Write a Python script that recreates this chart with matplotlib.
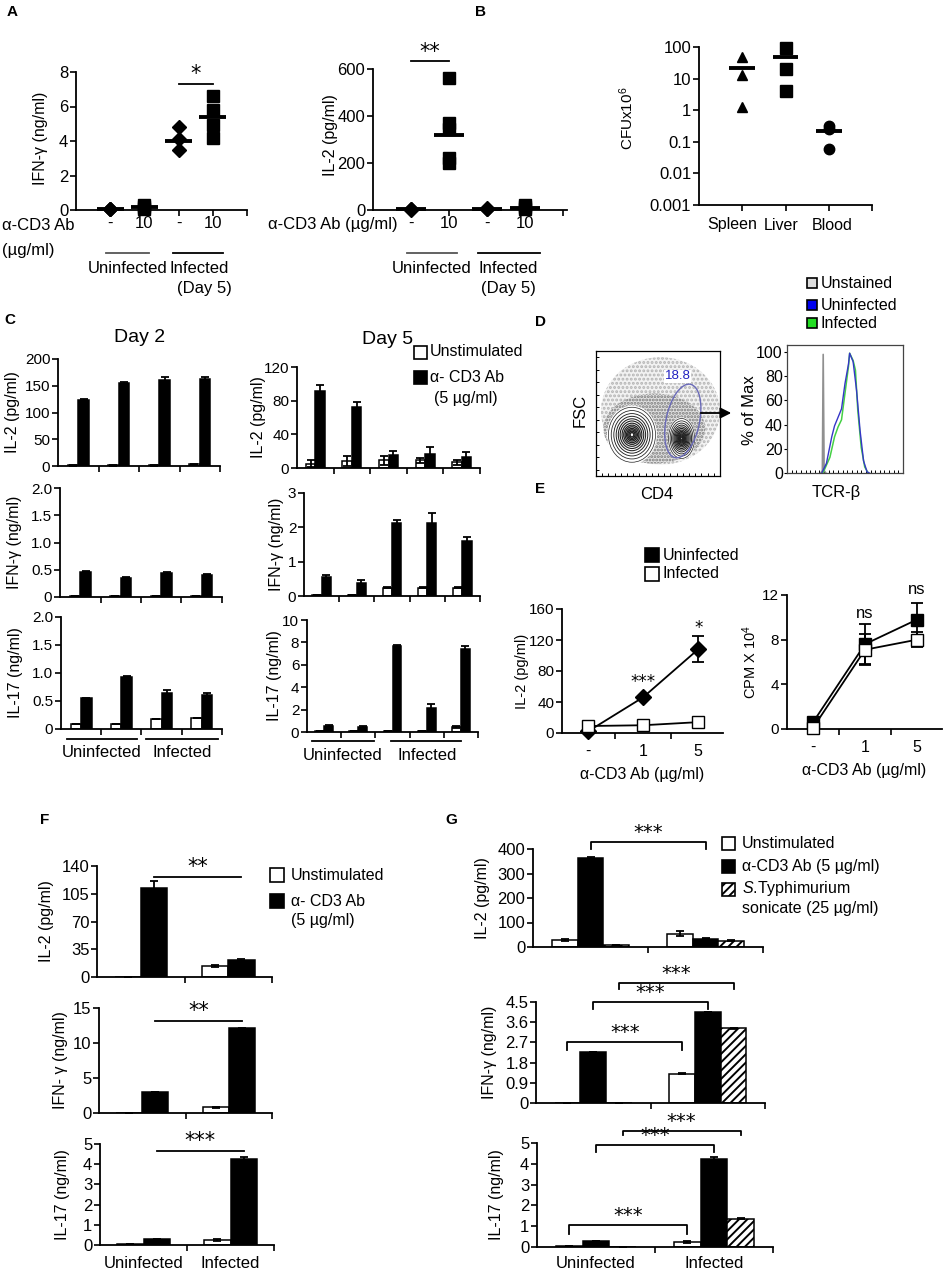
import numpy as np
import matplotlib
matplotlib.use("Agg")
import matplotlib.pyplot as plt
from matplotlib import transforms
from matplotlib.patches import Ellipse, Rectangle, FancyArrowPatch

plt.rcParams['font.family'] = ['Liberation Sans', 'DejaVu Sans']
plt.rcParams['mathtext.fontset'] = 'custom'
plt.rcParams['mathtext.rm'] = 'Liberation Sans'
plt.rcParams['mathtext.it'] = 'Liberation Sans:italic'
plt.rcParams['hatch.linewidth'] = 1.4

W, H = 944, 1272
STAR_FONT = ['DejaVu Sans']

# ---------------- data ----------------
# A: single mice + group means
a_tick_labels = ["-", "10", "-", "10"]
a_markers = ["D", "s", "D", "s"]
a_ifng_points = [[0.03, 0.05, 0.08], [0.05, 0.15, 0.3], [4.8, 4.1, 3.5], [6.6, 5.8, 4.9, 4.2]]
a_ifng_means = [0.05, 0.15, 4.0, 5.4]
a_il2_points = [[2, 4, 6], [560, 370, 345, 220, 200], [3, 5, 7], [5, 12, 20]]
a_il2_means = [4, 320, 5, 10]

# B: bacterial load
b_sites = ["Spleen", "Liver", "Blood"]
b_site_label_x = [0.76, 1.9, 3.08]
b_markers = ["^", "s", "o"]
b_cfu_points = [[48, 13, 1.3], [90, 20, 4], [0.32, 0.25, 0.06]]
b_cfu_means = [22, 47, 0.22]

# C: day 2 (4 cultures) and day 5 (5 cultures)
c2_il2_unstim, c2_il2_unstim_err = [1, 1, 1, 3], [0.5, 0.5, 0.5, 1]
c2_il2_cd3, c2_il2_cd3_err = [123, 155, 161, 163], [3, 2, 5, 4]
c2_ifng_unstim, c2_ifng_unstim_err = [0.02, 0.02, 0.02, 0.01], [0, 0, 0, 0]
c2_ifng_cd3, c2_ifng_cd3_err = [0.46, 0.35, 0.44, 0.41], [0.01, 0.01, 0.01, 0.01]
c2_il17_unstim, c2_il17_unstim_err = [0.09, 0.09, 0.18, 0.2], [0, 0, 0, 0]
c2_il17_cd3, c2_il17_cd3_err = [0.55, 0.93, 0.64, 0.61], [0.01, 0.01, 0.05, 0.04]

c5_il2_unstim, c5_il2_unstim_err = [5, 8, 9, 9, 7], [4, 6, 5, 3, 3]
c5_il2_cd3, c5_il2_cd3_err = [92, 72, 15, 17, 13], [7, 6, 5, 8, 6]
c5_ifng_unstim, c5_ifng_unstim_err = [0.02, 0.03, 0.24, 0.24, 0.24], [0, 0, 0.02, 0.02, 0.02]
c5_ifng_cd3, c5_ifng_cd3_err = [0.54, 0.38, 2.12, 2.14, 1.59], [0.08, 0.08, 0.09, 0.27, 0.14]
c5_il17_unstim, c5_il17_unstim_err = [0.05, 0.05, 0.1, 0.05, 0.45], [0, 0, 0, 0, 0.05]
c5_il17_cd3, c5_il17_cd3_err = [0.54, 0.45, 7.7, 2.1, 7.4], [0.05, 0.05, 0.1, 0.4, 0.25]

# D: flow cytometry (axes-fraction shapes, histogram points)
d_cloud_outer = (0.52, 0.52, 0.96, 0.86)
d_cloud_inner = (0.47, 0.38, 0.82, 0.56)
d_clusters = [(0.29, 0.33, 0.38, 0.44), (0.69, 0.30, 0.21, 0.32)]
d_contour_scales = [1.0, 0.88, 0.77, 0.67, 0.58, 0.5, 0.42, 0.35, 0.29, 0.23, 0.18, 0.13, 0.08]
d_gate = (0.70, 0.44, 0.27, 0.60, -12)
d_gate_pct = "18.8"
d_unstained_x = [29, 30.5, 31.2, 32, 33.5]
d_unstained_y = [0, 2, 98, 2, 0]
d_uninf_x = [30, 34, 38.6, 41, 44, 47, 50, 53, 54, 57, 60, 63, 66, 69, 71]
d_uninf_y = [0, 8, 30, 39, 46, 53, 74, 90, 99, 92, 68, 35, 10, 1, 0]
d_inf_x = [31, 37, 41, 44, 47, 50, 53, 54, 57, 59, 61, 64, 67, 70]
d_inf_y = [0, 13, 30, 38, 44, 66, 88, 99, 93, 85, 52, 21, 5, 0]

# E: dose response
e_doses = ["-", "1", "5"]
e_il2_uninf, e_il2_uninf_err = [2, 46, 108], [1, 2, 17]
e_il2_inf, e_il2_inf_err = [9, 10, 14], [1, 1, 1]
e_il2_stars, e_il2_star_y = ["", "***", "*"], [0, 66, 136]
e_cpm_uninf, e_cpm_uninf_err = [0.6, 7.6, 9.8], [0.2, 1.8, 1.5]
e_cpm_inf, e_cpm_inf_err = [0.1, 7.1, 8.0], [0.1, 1.4, 0.7]
e_cpm_stars, e_cpm_star_y = ["", "ns", "ns"], [0, 10.3, 12.5]

# F
f_groups = ["Uninfected", "Infected"]
f_il2_unstim, f_il2_unstim_err = [0.5, 14], [0, 1]
f_il2_cd3, f_il2_cd3_err = [112, 21], [9, 1.5]
f_ifng_unstim, f_ifng_unstim_err = [0.02, 0.8], [0, 0.1]
f_ifng_cd3, f_ifng_cd3_err = [3.0, 12.1], [0.05, 0.08]
f_il17_unstim, f_il17_unstim_err = [0.05, 0.25], [0, 0.03]
f_il17_cd3, f_il17_cd3_err = [0.28, 4.28], [0.02, 0.1]
f_sig_y = [126, 13.2, 4.65]
f_sig_txt = ["**", "**", "***"]

# G
g_il2 = [[30, 55], [362, 33], [8, 26]]
g_il2_err = [[4, 12], [4, 2], [1, 3]]
g_ifng = [[0.02, 1.3], [2.26, 4.04], [0.02, 3.33]]
g_ifng_err = [[0, 0.03], [0, 0], [0, 0.03]]
g_il17 = [[0.03, 0.24], [0.29, 4.25], [0.02, 1.36]]
g_il17_err = [[0, 0.03], [0.02, 0.08], [0, 0.03]]
# brackets: (bar index, top y, leg end y)
g_il2_br = [(1, 427, 400)]
g_ifng_br = [(0, 2.73, 2.36), (1, 4.5, 4.2), (2, 5.34, 5.09)]
g_il17_br = [(0, 1.04, 0.64), (1, 4.89, 4.57), (2, 5.6, 5.37)]

# ---------------- helpers ----------------
fig = plt.figure(figsize=(W / 100, H / 100), dpi=100)


def px_axes(l, t, r, b):
    return fig.add_axes([l / W, 1 - b / H, (r - l) / W, (b - t) / H])


def ftext(x, y, s, size=11, ha="center", va="center", **kw):
    return fig.text(x / W, 1 - y / H, s, size=size, ha=ha, va=va, **kw)


def fy(y):
    return 1 - y / H


def xfig(ax):
    return transforms.blended_transform_factory(ax.transData, fig.transFigure)


def open_axes(ax, fs=11):
    for side in ("top", "right"):
        ax.spines[side].set_visible(False)
    for side in ("left", "bottom"):
        ax.spines[side].set_linewidth(1.3)
    ax.tick_params(direction="out", length=4, width=1.2, labelsize=fs, pad=1.5)


def dot_panel(ax, points, means, markers, half):
    for i, (pts, m, mk) in enumerate(zip(points, means, markers)):
        x = i + 1
        ax.plot([x] * len(pts), pts, mk, color="black", ms=8 if mk == "s" else 7.5,
                clip_on=False, zorder=3)
        ax.hlines(m, x - half, x + half, color="black", lw=2.8, zorder=4, clip_on=False)


def bars(ax, series, errs, offsets, width, faces, hatches=None):
    n = len(series[0])
    centers = np.arange(n) + 0.5
    hatches = hatches or [None] * len(series)
    for vals, err, off, fc, h in zip(series, errs, offsets, faces, hatches):
        ax.bar(centers + off, vals, width, color=fc, edgecolor="black", linewidth=1.1,
               hatch=h, zorder=2)
        ax.errorbar(centers + off, vals, yerr=err, fmt="none", ecolor="black",
                    elinewidth=1.3, capsize=3, capthick=1.3, zorder=3)
    ax.set_xlim(0, n)
    ax.set_xticks(np.arange(1, n + 1))
    ax.set_xticklabels([])


def underline(ax, x0, x1, ypx, color="black"):
    ax.plot([x0, x1], [fy(ypx)] * 2, color=color, lw=1.3, transform=xfig(ax), clip_on=False)


def legend_box(x, y, face, hatch=None, size=13):
    fig.add_artist(Rectangle(((x - size / 2) / W, fy(y + size / 2)), size / W, size / H,
                             facecolor=face, edgecolor="black", lw=1.2, hatch=hatch,
                             transform=fig.transFigure))


# panel letters
for letter, x, y in [("A", 12, 12), ("B", 481, 12), ("C", 10, 320), ("D", 540, 322),
                     ("E", 540, 489), ("F", 45, 820), ("G", 451, 820)]:
    ftext(x, y, letter, size=11, weight="bold")

# ---------------- A ----------------
ax = px_axes(76, 72, 247, 210)
open_axes(ax, 12)
dot_panel(ax, a_ifng_points, a_ifng_means, a_markers, 0.4)
ax.set_xlim(0, 5)
ax.set_ylim(0, 8)
ax.set_yticks([0, 2, 4, 6, 8])
ax.set_xticks([1, 2, 3, 4, 5])
ax.set_xticklabels([])
ax.plot([3, 4], [7.3, 7.3], color="black", lw=1.3, clip_on=False)
ax.text(3.5, 7.3, "*", ha="center", va="bottom", size=15, family=STAR_FONT)
for i, lab in enumerate(a_tick_labels):
    ax.text(i + 1, fy(223), lab, transform=xfig(ax), ha="center", va="center", size=12)
underline(ax, 0.88, 2.14, 253, color="#555555")
underline(ax, 2.84, 4.3, 253)
ax.text(1.5, fy(268), "Uninfected", transform=xfig(ax), ha="center", va="center", size=12)
ax.text(3.6, fy(268), "Infected", transform=xfig(ax), ha="center", va="center", size=12)
ax.text(3.75, fy(289), "(Day 5)", transform=xfig(ax), ha="center", va="center", size=12)
ftext(2, 225, "α-CD3 Ab", size=12, ha="left")
ftext(2, 250, "(µg/ml)", size=12, ha="left")
ftext(40, 138, "IFN-γ (ng/ml)", size=11.5, rotation=90)

ax = px_axes(373, 69, 567, 210)
open_axes(ax, 12)
dot_panel(ax, a_il2_points, a_il2_means, a_markers, 0.4)
ax.set_xlim(0, 5.1)
ax.set_ylim(0, 600)
ax.set_yticks([0, 200, 400, 600])
ax.set_xticks([1, 2, 3, 4, 5])
ax.set_xticklabels([])
ax.plot([1, 2], [632, 632], color="black", lw=1.3, clip_on=False)
ax.text(1.5, 630, "**", ha="center", va="bottom", size=15, family=STAR_FONT)
for i, lab in enumerate(a_tick_labels):
    ax.text(i + 1, fy(223), lab, transform=xfig(ax), ha="center", va="center", size=12)
underline(ax, 0.9, 2.2, 253, color="#555555")
underline(ax, 2.75, 4.4, 253)
ax.text(1.55, fy(268), "Uninfected", transform=xfig(ax), ha="center", va="center", size=12)
ax.text(3.55, fy(268), "Infected", transform=xfig(ax), ha="center", va="center", size=12)
ax.text(3.55, fy(289), "(Day 5)", transform=xfig(ax), ha="center", va="center", size=12)
ftext(398, 225, "α-CD3 Ab (µg/ml)", size=12, ha="right")
ftext(330, 135, "IL-2 (pg/ml)", size=11.5, rotation=90)

# ---------------- B ----------------
ax = px_axes(699, 47, 872, 205)
open_axes(ax, 12)
ax.set_yscale("log")
dot_panel(ax, b_cfu_points, b_cfu_means, b_markers, 0.3)
ax.set_xlim(0, 4)
ax.set_ylim(0.001, 100)
ax.set_yticks([0.001, 0.01, 0.1, 1, 10, 100])
ax.set_yticklabels(["0.001", "0.01", "0.1", "1", "10", "100"])
ax.minorticks_off()
ax.set_xticks([1, 2, 3, 4])
ax.set_xticklabels([])
for lx, site in zip(b_site_label_x, b_sites):
    ax.text(lx, fy(225), site, transform=xfig(ax), ha="center", va="center", size=11.5)
ftext(627, 118, "CFUx10$^6$", size=11, rotation=90)

# ---------------- C ----------------
ftext(140, 337, "Day 2", size=14)
ftext(388, 339, "Day 5", size=14)
c_off, c_w = [-0.13, 0.13], 0.26


def c_panel(box, unstim, unstim_err, cd3, cd3_err, ylim, yticks, ylabels, lab, lab_x):
    ax = px_axes(*box)
    open_axes(ax, 11)
    bars(ax, [unstim, cd3], [unstim_err, cd3_err], c_off, c_w, ["white", "black"])
    ax.set_ylim(*ylim)
    ax.set_yticks(yticks)
    ax.set_yticklabels(ylabels)
    ftext(lab_x, (box[1] + box[3]) / 2, lab, size=11.5, rotation=90)
    return ax


c_panel((58, 359, 220, 466), c2_il2_unstim, c2_il2_unstim_err, c2_il2_cd3, c2_il2_cd3_err,
        (0, 200), [0, 50, 100, 150, 200], ["0", "50", "100", "150", "200"], "IL-2 (pg/ml)", 13)
c_panel((60, 488, 222, 597), c2_ifng_unstim, c2_ifng_unstim_err, c2_ifng_cd3, c2_ifng_cd3_err,
        (0, 2), [0, 0.5, 1, 1.5, 2], ["0", "0.5", "1.0", "1.5", "2.0"], "IFN-γ (ng/ml)", 15)
ax = c_panel((61, 617, 222, 729), c2_il17_unstim, c2_il17_unstim_err, c2_il17_cd3, c2_il17_cd3_err,
             (0, 2), [0, 0.5, 1, 1.5, 2], ["0", "0.5", "1.0", "1.5", "2.0"], "IL-17 (ng/ml)", 16)
underline(ax, 0.15, 1.9, 739)
underline(ax, 2.1, 3.9, 739)
ax.text(1.0, fy(753), "Uninfected", transform=xfig(ax), ha="center", va="center", size=12)
ax.text(3.0, fy(753), "Infected", transform=xfig(ax), ha="center", va="center", size=12)

c_panel((297, 367, 480, 468), c5_il2_unstim, c5_il2_unstim_err, c5_il2_cd3, c5_il2_cd3_err,
        (0, 120), [0, 40, 80, 120], ["0", "40", "80", "120"], "IL-2 (pg/ml)", 258)
c_panel((304, 493, 480, 596), c5_ifng_unstim, c5_ifng_unstim_err, c5_ifng_cd3, c5_ifng_cd3_err,
        (0, 3), [0, 1, 2, 3], ["0", "1", "2", "3"], "IFN-γ (ng/ml)", 276)
ax = c_panel((307, 620, 478, 732), c5_il17_unstim, c5_il17_unstim_err, c5_il17_cd3, c5_il17_cd3_err,
             (0, 10), [0, 2, 4, 6, 8, 10], ["0", "2", "4", "6", "8", "10"], "IL-17 (ng/ml)", 274)
underline(ax, 0.15, 1.95, 741)
underline(ax, 2.45, 4.5, 741)
ax.text(1.05, fy(756), "Uninfected", transform=xfig(ax), ha="center", va="center", size=12)
ax.text(3.5, fy(756), "Infected", transform=xfig(ax), ha="center", va="center", size=12)

legend_box(420, 352, "white")
legend_box(420, 378, "black")
ftext(430, 352, "Unstimulated", size=11.5, ha="left")
ftext(430, 378, "α- CD3 Ab", size=11.5, ha="left")
ftext(434, 398, "(5 µg/ml)", size=11.5, ha="left")

# ---------------- D ----------------
ax = px_axes(596, 351, 720, 476)
ax.set_xlim(0, 1)
ax.set_ylim(0, 1)
for s in ax.spines.values():
    s.set_linewidth(0.9)
ax.set_xticks(np.arange(0.05, 1.0, 0.05))
ax.set_yticks(np.arange(0.05, 1.0, 0.1))
ax.tick_params(direction="in", length=2, width=0.7, labelbottom=False, labelleft=False)
for (cx, cy, cw, ch), face, hatch, col in [(d_cloud_outer, "#f2f2f2", "....", "#b4b4b4"),
                                           (d_cloud_inner, "#e2e2e2", ".....", "#7a7a7a")]:
    ax.add_patch(Ellipse((cx, cy), cw, ch, facecolor=face, edgecolor=col, lw=0, hatch=hatch))
for (x0, y0, w0, h0) in d_clusters:
    ax.add_patch(Ellipse((x0, y0), w0 * 1.06, h0 * 1.06, facecolor="white", edgecolor="none"))
    for k in d_contour_scales:
        ax.add_patch(Ellipse((x0, y0), w0 * k, h0 * k, facecolor="none",
                             edgecolor="#222222", lw=0.5 + (1 - k) * 0.6))
gx, gy, gw, gh, ga = d_gate
ax.add_patch(Ellipse((gx, gy), gw, gh, angle=ga, facecolor="none", edgecolor="#6a6ab8", lw=1.0))
ax.text(gx - 0.04, 0.75, d_gate_pct, color="#2020c0", size=9.5, ha="center", va="bottom",
        bbox=dict(facecolor="white", edgecolor="none", pad=0.5))
ftext(580, 410, "FSC", size=12, rotation=90)
ftext(657, 495, "CD4", size=12)
fig.add_artist(FancyArrowPatch((698 / W, fy(413)), (734 / W, fy(413)),
                               transform=fig.transFigure, arrowstyle="-|>",
                               mutation_scale=16, color="black", lw=1.3))

ax = px_axes(787, 345, 903, 473)
ax.set_xlim(0, 100)
ax.set_ylim(0, 105.8)
for s in ax.spines.values():
    s.set_linewidth(0.9)
    s.set_color("#444444")
ax.plot(d_unstained_x, d_unstained_y, color="#909090", lw=1.2)
ax.plot(d_inf_x, d_inf_y, color="#44d044", lw=1.1)
ax.plot(d_uninf_x, d_uninf_y, color="#3535c8", lw=1.0)
ax.set_yticks([0, 20, 40, 60, 80, 100])
ax.tick_params(axis="y", direction="out", length=2, width=0.8, labelsize=11.5, pad=1)
ax.set_xticks(np.arange(4, 100, 4))
ax.tick_params(axis="x", direction="in", length=2, width=0.7, labelbottom=False)
ftext(750, 410, "% of Max", size=12, rotation=90)
ftext(836, 493, "TCR-β", size=12)

for (y, face, lab) in [(283, "#dddddd", "Unstained"), (305, "#0000ee", "Uninfected"),
                       (323, "#22dd22", "Infected")]:
    legend_box(812, y, face, size=10)
    ftext(821, y, lab, size=11.5, ha="left")

# ---------------- E ----------------
legend_box(652, 555, "black", size=14)
legend_box(652, 574, "white", size=14)
ftext(663, 555, "Uninfected", size=11.5, ha="left")
ftext(663, 574, "Infected", size=11.5, ha="left")


def e_panel(box, xlim, uninf, uninf_err, inf, inf_err, ylim, yticks, stars, star_y, um, lab, lab_x):
    ax = px_axes(*box)
    open_axes(ax, 11)
    x = np.arange(len(e_doses))
    ax.errorbar(x, uninf, yerr=uninf_err, color="black", marker=um, ms=9 if um == "s" else 8,
                mfc="black", lw=1.3, capsize=4, capthick=1.3, zorder=3, clip_on=False)
    ax.errorbar(x, inf, yerr=inf_err, color="black", marker="s", ms=9, mfc="white",
                lw=1.3, capsize=4, capthick=1.3, zorder=4, clip_on=False)
    for xi, s, yv in zip(x, stars, star_y):
        if s:
            ax.text(xi, yv, s, ha="center", va="center", size=12,
                    family=STAR_FONT if "*" in s else None)
    ax.set_xlim(*xlim)
    ax.set_ylim(*ylim)
    ax.set_yticks(yticks)
    ax.set_xticks(x)
    ax.set_xticklabels(e_doses)
    ax.set_xticks([0.5, 1.5], minor=True)
    ax.tick_params(axis="x", which="major", length=0, pad=8, labelsize=11.5)
    ax.tick_params(axis="x", which="minor", direction="out", length=4, width=1.2)
    ax.set_xlabel("α-CD3 Ab (µg/ml)", size=11.5, labelpad=6)
    ftext(lab_x, (box[1] + box[3]) / 2, lab, size=10.5, rotation=90)
    return ax


e_panel((562, 609, 723, 733), (-0.47, 2.45), e_il2_uninf, e_il2_uninf_err, e_il2_inf, e_il2_inf_err,
        (0, 160), [0, 40, 80, 120, 160], e_il2_stars, e_il2_star_y, "D", "IL-2 (pg/ml)", 522)
e_panel((787, 595, 942, 729), (-0.5, 2.48), e_cpm_uninf, e_cpm_uninf_err, e_cpm_inf, e_cpm_inf_err,
        (0, 12), [0, 4, 8, 12], e_cpm_stars, e_cpm_star_y, "s", "CPM X 10$^4$", 750)

# ---------------- F ----------------
f_off, f_w = [-0.15, 0.15], 0.3


def f_panel(box, unstim, unstim_err, cd3, cd3_err, ylim, yticks, sig_y, sig_txt, lab, lab_x):
    ax = px_axes(*box)
    open_axes(ax, 12)
    bars(ax, [unstim, cd3], [unstim_err, cd3_err], f_off, f_w, ["white", "black"])
    ax.set_ylim(*ylim)
    ax.set_yticks(yticks)
    ax.plot([0.65, 1.65], [sig_y, sig_y], color="black", lw=1.3, clip_on=False)
    ax.text(1.15, sig_y, sig_txt, ha="center", va="bottom", size=15, family=STAR_FONT)
    ftext(lab_x, (box[1] + box[3]) / 2, lab, size=11.5, rotation=90)
    return ax


f_panel((97, 866, 272, 977), f_il2_unstim, f_il2_unstim_err, f_il2_cd3, f_il2_cd3_err,
        (0, 140), [0, 35, 70, 105, 140], f_sig_y[0], f_sig_txt[0], "IL-2 (pg/ml)", 46)
f_panel((99, 1008, 272, 1113), f_ifng_unstim, f_ifng_unstim_err, f_ifng_cd3, f_ifng_cd3_err,
        (0, 15), [0, 5, 10, 15], f_sig_y[1], f_sig_txt[1], "IFN- γ (ng/ml)", 60)
ax = f_panel((100, 1144, 274, 1245), f_il17_unstim, f_il17_unstim_err, f_il17_cd3, f_il17_cd3_err,
             (0, 5), [0, 1, 2, 3, 4, 5], f_sig_y[2], f_sig_txt[2], "IL-17 (ng/ml)", 63)
for i, g in enumerate(f_groups):
    ax.text(i + 0.5, fy(1263), g, transform=xfig(ax), ha="center", va="center", size=12)

legend_box(277, 875, "white", size=14)
legend_box(277, 901, "black", size=14)
ftext(291, 875, "Unstimulated", size=11.5, ha="left")
ftext(291, 901, "α- CD3 Ab", size=11.5, ha="left")
ftext(291, 921, "(5 µg/ml)", size=11.5, ha="left")

# ---------------- G ----------------
g_off, g_w = [-0.225, 0.0, 0.225], 0.225
g_faces = ["white", "black", "white"]
g_hatch = [None, None, "////"]


def g_panel(box, series, errs, ylim, yticks, ylabels, brackets, lab, lab_x):
    ax = px_axes(*box)
    open_axes(ax, 12)
    bars(ax, series, errs, g_off, g_w, g_faces, g_hatch)
    ax.set_ylim(*ylim)
    ax.set_yticks(yticks)
    ax.set_yticklabels(ylabels)
    for idx, top, leg in brackets:
        x0, x1 = 0.5 + g_off[idx], 1.5 + g_off[idx]
        ax.plot([x0, x0, x1, x1], [leg, top, top, leg], color="black", lw=1.3, clip_on=False)
        ax.text((x0 + x1) / 2, top, "***", ha="center", va="bottom", size=14,
                family=STAR_FONT, clip_on=False)
    ftext(lab_x, (box[1] + box[3]) / 2, lab, size=11.5, rotation=90)
    return ax


g_panel((533, 849, 763, 947), g_il2, g_il2_err, (0, 400), [0, 100, 200, 300, 400],
        ["0", "100", "200", "300", "400"], g_il2_br, "IL-2 (pg/ml)", 483)
g_panel((536, 1002, 765, 1103), g_ifng, g_ifng_err, (0, 4.5), [0, 0.9, 1.8, 2.7, 3.6, 4.5],
        ["0", "0.9", "1.8", "2.7", "3.6", "4.5"], g_ifng_br, "IFN-γ (ng/ml)", 490)
ax = g_panel((537, 1143, 773, 1247), g_il17, g_il17_err, (0, 5), [0, 1, 2, 3, 4, 5],
             ["0", "1", "2", "3", "4", "5"], g_il17_br, "IL-17 (ng/ml)", 497)
for i, g in enumerate(f_groups):
    ax.text(i + 0.5, fy(1264), g, transform=xfig(ax), ha="center", va="center", size=12)

legend_box(728, 843, "white", size=13)
legend_box(728, 866, "black", size=13)
legend_box(728, 889, "white", hatch="////", size=13)
ftext(742, 843, "Unstimulated", size=11.5, ha="left")
ftext(742, 866, "α-CD3 Ab (5 µg/ml)", size=11.5, ha="left")
ftext(742, 889, "$\\it{S}$.Typhimurium", size=11.5, ha="left")
ftext(742, 909, "sonicate (25 µg/ml)", size=11.5, ha="left")

fig.savefig("out.png", dpi=100, facecolor="white")
